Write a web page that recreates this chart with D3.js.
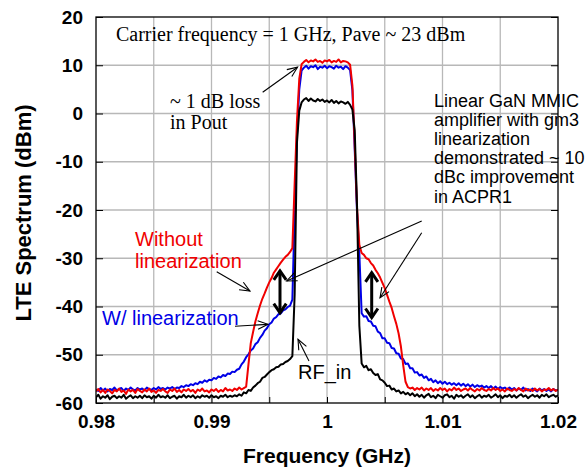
<!DOCTYPE html>
<html>
<head>
<meta charset="utf-8">
<script src="https://cdn.jsdelivr.net/npm/d3@7"></script>
<style>
  body { margin: 0; background: #fff; }
  svg { display: block; }
  .sans { font-family: "Liberation Sans", Arial, sans-serif; }
  .serif { font-family: "Liberation Serif", "Times New Roman", serif; }
</style>
</head>
<body>
<svg id="chart" width="587" height="472"></svg>
<script>
// Sampling grid of the spectrum analyser trace (GHz)
const freqStart = 0.98;
const freqStep = 0.0002;

// Without linearization (red), dBm
const redDbm = [
  -57.6, -57.1, -57.8, -57.3, -57.9, -57.2, -57.5, -58.0, -57.3, -57.6,
  -57.0, -57.7, -57.4, -58.1, -57.2, -57.6, -57.3, -57.9, -57.1, -57.5,
  -57.8, -57.2, -57.6, -57.0, -57.7, -57.4, -57.9, -57.3, -57.5, -57.1,
  -57.6, -57.9, -57.2, -57.5, -57.0, -57.7, -57.3, -57.8, -57.2, -57.5,
  -57.1, -57.6, -57.3, -57.9, -57.2, -57.5, -57.0, -57.6, -57.4, -57.8,
  -57.2, -57.5, -57.1, -57.7, -57.3, -57.6, -56.9, -57.4, -57.2, -57.5,
  -57.0, -57.3, -56.8, -57.2, -56.9,
  -56.6, -52.0, -47.6, -45.3, -43.1,
  -41.4, -39.8, -38.4, -37.3, -36.1, -35.0, -34.1, -33.0, -32.3, -31.6,
  -30.9, -30.3, -29.7, -29.3, -28.7, -27.9, -14.5, -1.5, 7.2, 10.2,
  10.7, 11.1, 10.6, 11.0, 10.8, 11.2, 10.7, 10.9, 10.5, 11.0,
  10.8, 11.1, 10.6, 10.9, 10.7, 11.2, 10.6, 10.9, 10.8, 10.6,
  10.1, 5.8, -6.5, -19.5, -27.2,
  -28.9, -29.3, -30.0, -30.2, -31.0,
  -31.5, -32.4, -33.1, -34.0, -35.1, -36.2, -37.6, -39.0, -40.3, -42.0,
  -43.6, -45.6, -48.3, -52.2, -55.6,
  -56.7, -57.0, -56.8, -57.3, -56.9,
  -57.2, -56.8, -57.4, -57.0, -57.3, -56.9, -57.5, -57.1, -57.4, -56.9,
  -57.3, -57.0, -57.6, -57.1, -57.4, -56.8, -57.3, -57.0, -57.5, -57.2,
  -57.0, -57.4, -56.9, -57.3, -57.6, -57.1, -57.4, -56.9, -57.3, -57.5,
  -57.1, -57.4, -56.9, -57.3, -57.0, -57.5, -57.2, -57.6, -57.0, -57.3,
  -57.5, -57.1, -57.4, -56.9, -57.3, -57.6, -57.0, -57.4, -57.2, -57.5,
  -57.0, -57.4, -57.1, -57.6, -57.2, -57.3, -56.9, -57.4, -57.1, -57.5, -57.2
];

// W/ linearization (blue), dBm
const blueDbm = [
  -57.2, -57.5, -56.9, -57.4, -57.0, -57.6, -57.1, -57.3, -56.8, -57.4,
  -57.1, -56.9, -57.5, -57.0, -57.3, -56.8, -57.2, -57.4, -56.9, -57.2,
  -57.0, -57.4, -56.8, -57.1, -57.3, -56.9, -57.2, -56.7, -57.1, -56.9,
  -57.2, -56.8, -57.0, -56.7, -57.1, -56.8,
  -56.9, -56.5, -56.7, -56.3, -56.5, -56.1, -56.3, -55.9, -56.1, -55.6, -55.8, -55.3, -55.6, -55.2,
  -55.3, -54.8, -55.0, -54.5, -54.7, -54.2, -54.4, -53.9, -54.0, -53.5, -53.6, -53.1,
  -52.9, -52.0, -51.4, -50.5, -49.9, -49.1, -48.7, -47.8, -47.4, -46.5, -45.9, -45.0,
  -44.5, -43.7, -43.3, -42.5, -42.2, -41.6, -41.4, -40.8, -40.6, -40.1, -39.8, -38.6,
  -20.5, -4.5, 5.0, 8.9,
  9.5, 9.9, 9.3, 9.8, 9.6, 10.0, 9.2, 9.7, 9.5, 9.9,
  9.4, 9.8, 9.6, 9.3, 9.9, 9.5, 9.7, 9.2, 9.8, 9.5,
  9.0, 4.8, -7.5, -20.5, -29.0,
  -41.4, -42.1, -42.0, -43.0, -43.1, -44.0, -44.1, -45.2, -45.5, -46.6,
  -46.6, -47.5, -47.6, -48.6, -48.7, -49.7, -49.8, -50.8, -50.9, -51.9,
  -51.8, -52.8, -52.8, -53.7, -53.6, -54.3, -54.1, -54.8, -54.5, -55.3,
  -55.0, -55.7, -55.3, -55.9, -55.5,
  -56.0, -55.6, -56.1, -55.8, -56.2, -55.9, -56.3, -55.9, -56.4, -56.0,
  -56.5, -56.1, -56.6, -56.2, -56.7, -56.3, -56.6, -56.4, -56.8, -56.5,
  -56.9, -56.5, -57.0, -56.6, -57.1, -56.7, -57.0, -56.8, -57.2, -56.8,
  -57.2, -56.9, -57.4, -57.0, -57.3, -56.8, -57.4, -57.1, -57.5, -57.0,
  -57.3, -57.6, -57.0, -57.4, -57.1, -57.5, -57.2, -57.6, -57.1, -57.4, -57.3
];

// RF_in (black), dBm
const blackDbm = [
  -58.8, -58.3, -59.1, -58.6, -58.9, -58.4, -59.2, -58.7, -58.5, -59.0,
  -58.6, -58.9, -58.3, -59.1, -58.7, -58.4, -59.0, -58.6, -58.9, -58.5,
  -59.0, -58.4, -58.8, -58.6, -59.1, -58.5, -58.9, -58.3, -58.8, -58.6,
  -58.9, -58.4, -59.0, -58.7, -58.5, -59.1, -58.6, -58.8, -58.3, -58.9,
  -58.5, -58.8, -58.4, -59.0, -58.6, -58.9, -58.4, -58.7, -58.5, -58.9,
  -58.4, -58.8, -58.6, -59.0, -58.5, -58.7, -58.3, -58.8, -58.5, -58.7,
  -58.4, -58.6, -58.2, -58.5, -57.8, -58.0, -57.3, -57.5, -56.8, -56.4,
  -55.9, -55.6, -54.8, -54.6, -54.1, -53.6, -53.2, -53.0, -52.6, -52.5,
  -52.0, -51.9, -51.5, -51.3, -50.9, -50.3,
  -37.5, -6.0, 0.6, 2.3,
  2.9, 3.2, 2.6, 3.1, 2.7, 2.5, 3.0, 2.6, 2.9, 2.4,
  2.7, 2.3, 2.8, 2.2, 2.6, 2.1, 2.5, 2.3, 2.0, 2.4,
  1.8, 0.8, -3.5, -19.0, -44.0,
  -51.8, -52.6, -52.3, -53.2, -53.0, -53.8, -54.2, -54.0, -55.1, -55.3,
  -55.8, -56.5, -56.4, -57.2, -57.0,
  -57.6, -57.4, -58.0, -57.7, -58.2, -57.9, -58.4, -58.0, -58.6, -58.2,
  -58.7, -58.3, -58.9, -58.4, -58.1, -58.8, -58.5, -59.0, -58.3, -58.6,
  -58.9, -58.4, -58.2, -58.8, -58.5, -59.1, -58.3, -58.7, -58.4, -58.9,
  -58.5, -58.2, -58.8, -58.4, -59.0, -58.6, -58.3, -58.9, -58.5, -58.7,
  -58.3, -58.9, -58.6, -58.2, -58.8, -58.4, -59.0, -58.5, -58.7, -58.3,
  -58.8, -58.4, -58.9, -58.5, -58.2, -58.7, -58.4, -59.0, -58.6, -58.3,
  -58.7, -58.4, -58.9, -58.3, -58.6, -58.2, -58.8, -58.5, -58.3, -58.7, -58.4
];

const xTicks = [0.98, 0.985, 0.99, 0.995, 1, 1.005, 1.01, 1.015, 1.02];
const xTickLabels = ["0.98", "", "0.99", "", "1", "", "1.01", "", "1.02"];
const yTicks = [20, 10, 0, -10, -20, -30, -40, -50, -60];

// Layout
const width = 587, height = 472;
const margin = { top: 17, right: 29, bottom: 69, left: 96 };
const plotW = width - margin.left - margin.right;
const plotH = height - margin.top - margin.bottom;

const svg = d3.select("#chart");
const g = svg.append("g").attr("transform", `translate(${margin.left},${margin.top})`);

const x = d3.scaleLinear().domain([0.98, 1.02]).range([0, plotW]);
const y = d3.scaleLinear().domain([-60, 20]).range([plotH, 0]);

// grid
g.append("g").selectAll("line")
  .data(xTicks.slice(1, -1))
  .join("line")
  .attr("x1", d => x(d)).attr("x2", d => x(d))
  .attr("y1", 0).attr("y2", plotH)
  .attr("stroke", "#b8b8b8").attr("stroke-width", 1.3);
g.append("g").selectAll("line")
  .data(yTicks.slice(1, -1))
  .join("line")
  .attr("x1", 0).attr("x2", plotW)
  .attr("y1", d => y(d)).attr("y2", d => y(d))
  .attr("stroke", "#b8b8b8").attr("stroke-width", 1.3);

// traces
g.append("clipPath").attr("id", "clip")
  .append("rect").attr("width", plotW).attr("height", plotH);

const series = [
  { values: blueDbm, color: "#0000e6" },
  { values: redDbm, color: "#f00000" },
  { values: blackDbm, color: "#000000" }
];
const line = d3.line()
  .x((d, i) => x(freqStart + i * freqStep))
  .y(d => y(d));

g.append("g").attr("clip-path", "url(#clip)")
  .selectAll("path")
  .data(series)
  .join("path")
  .attr("d", d => line(d.values))
  .attr("fill", "none")
  .attr("stroke", d => d.color)
  .attr("stroke-width", 2)
  .attr("stroke-linejoin", "round");

// frame and inside ticks
g.append("rect").attr("width", plotW).attr("height", plotH)
  .attr("fill", "none").attr("stroke", "#000").attr("stroke-width", 1.3);

g.append("g").attr("transform", `translate(0,${plotH})`)
  .call(d3.axisBottom(x).tickValues(xTicks).tickSize(-6).tickPadding(12)
    .tickFormat((d, i) => xTickLabels[i]))
  .call(a => a.select(".domain").remove())
  .call(a => a.selectAll("text").attr("class", "sans").attr("font-size", 19)
    .attr("font-weight", "bold").attr("fill", "#000"));

g.append("g")
  .call(d3.axisLeft(y).tickValues(yTicks).tickSize(-7).tickPadding(13)
    .tickFormat(d => String(d)))
  .call(a => a.select(".domain").remove())
  .call(a => a.selectAll("text").attr("class", "sans").attr("font-size", 19)
    .attr("font-weight", "bold").attr("fill", "#000"));

g.append("g").attr("transform", `translate(${plotW},0)`)
  .call(d3.axisRight(y).tickValues(yTicks).tickSize(-7).tickFormat(""))
  .call(a => a.select(".domain").remove());

// axis titles
svg.append("text").attr("class", "sans")
  .attr("x", margin.left + plotW / 2).attr("y", 463)
  .attr("text-anchor", "middle").attr("font-size", 21).attr("font-weight", "bold")
  .text("Frequency (GHz)");
svg.append("text").attr("class", "sans")
  .attr("transform", `translate(31,${margin.top + plotH / 2 + 3}) rotate(-90)`)
  .attr("text-anchor", "middle").attr("font-size", 22).attr("font-weight", "bold")
  .text("LTE Spectrum (dBm)");

// annotations
function arrowHead(x1, y1, x2, y2, len, spread) {
  const a = Math.atan2(y2 - y1, x2 - x1);
  const p1 = [x2 - len * Math.cos(a - spread), y2 - len * Math.sin(a - spread)];
  const p2 = [x2 - len * Math.cos(a + spread), y2 - len * Math.sin(a + spread)];
  return `M${p1}L${x2},${y2}L${p2}`;
}

const arrows = [
  [0.99443, 4.4, 0.99745, 9.6],
  [0.99045, -32.8, 0.99333, -36.8],
  [0.99203, -44.1, 0.99489, -43.7],
  [0.99844, -51.3, 0.99749, -46.8],
  [1.0082, -22.3, 0.99651, -34.7],
  [1.0082, -24.7, 1.00459, -38.2]
];
arrows.forEach(([f1, v1, f2, v2]) => {
  const x1 = x(f1), y1 = y(v1), x2 = x(f2), y2 = y(v2);
  g.append("line").attr("x1", x1).attr("y1", y1).attr("x2", x2).attr("y2", y2)
    .attr("stroke", "#000").attr("stroke-width", 1.1);
  g.append("path").attr("d", arrowHead(x1, y1, x2, y2, 11, 0.4))
    .attr("fill", "none").attr("stroke", "#000").attr("stroke-width", 1.1);
});

const doubleArrows = [
  [0.99593, -32.6, -41.3],
  [1.00387, -33.0, -42.3]
];
doubleArrows.forEach(([f, vTop, vBot]) => {
  const xx = x(f), yt = y(vTop), yb = y(vBot);
  g.append("line").attr("x1", xx).attr("y1", yt).attr("x2", xx).attr("y2", yb)
    .attr("stroke", "#000").attr("stroke-width", 3);
  g.append("path").attr("d", arrowHead(xx, yb, xx, yt, 11, 0.6) + arrowHead(xx, yt, xx, yb, 11, 0.6))
    .attr("fill", "none").attr("stroke", "#000").attr("stroke-width", 3)
    .attr("stroke-linejoin", "miter");
});

const serifNotes = [
  { f: 0.98173, v: 15.1, lines: ["Carrier frequency = 1 GHz, Pave ~ 23 dBm"] },
  { f: 0.98641, v: 1.2, lines: ["~ 1 dB loss", "in Pout"] }
];
serifNotes.forEach(n => {
  const t = g.append("text").attr("class", "serif").attr("font-size", 20).attr("fill", "#000");
  n.lines.forEach((s, i) => t.append("tspan").attr("x", x(n.f)).attr("y", y(n.v) + i * 21).text(s));
});

const sansNotes = [
  { f: 1.00926, v: 1.45, size: 18, lh: 19.2, color: "#000",
    lines: ["Linear GaN MMIC", "amplifier with gm3", "linearization", "demonstrated ~ 10", "dBc improvement", "in ACPR1"] },
  { f: 0.98338, v: -27.5, size: 20, lh: 22, color: "#f00000", lines: ["Without", "linearization"] },
  { f: 0.98052, v: -43.9, size: 20, lh: 22, color: "#0000e6", lines: ["W/ linearization"] },
  { f: 0.99749, v: -55.1, size: 20, lh: 22, color: "#000", lines: ["RF_in"] }
];
sansNotes.forEach(n => {
  const t = g.append("text").attr("class", "sans").attr("font-size", n.size).attr("fill", n.color);
  n.lines.forEach((s, i) => t.append("tspan").attr("x", x(n.f)).attr("y", y(n.v) + i * n.lh).text(s));
});
</script>
</body>
</html>
